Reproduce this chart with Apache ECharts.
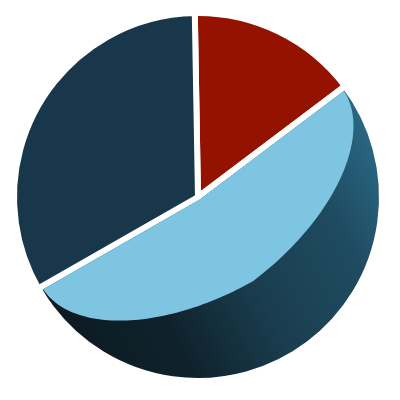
<!DOCTYPE html>
<html>
<head>
<meta charset="utf-8">
<script src="https://cdn.jsdelivr.net/npm/echarts@6/dist/echarts.min.js"></script>
<style>
html,body{margin:0;padding:0;background:#ffffff;}
#c{width:400px;height:400px;}
</style>
</head>
<body>
<div id="c"></div>
<script>
// ---- data ----
const categories = ['Segment A', 'Segment B', 'Segment C'];
const values = [15, 52, 33];

// ---- styling ----
const sliceColors = [
  '#931200',
  {
    type: 'linear', x: 0, y: 0.8, x2: 1, y2: 0.2,
    colorStops: [
      { offset: 0, color: '#0c1920' },
      { offset: 0.3, color: '#0f222c' },
      { offset: 0.55, color: '#1a3e50' },
      { offset: 0.8, color: '#1f4b60' },
      { offset: 1, color: '#2a6a88' }
    ]
  },
  '#19374b'
];
const highlightColor = '#7ec5e2';
const START_ANGLE = 91;
const CENTER = [198, 197];
const RADIUS = 184;
const BORDER = 6;

const chart = echarts.init(document.getElementById('c'), null, { renderer: 'canvas' });

const option = {
  animation: false,
  backgroundColor: '#ffffff',
  series: [{
    type: 'pie',
    center: CENTER,
    radius: RADIUS,
    startAngle: START_ANGLE,
    clockwise: true,
    label: { show: false },
    labelLine: { show: false },
    emphasis: { disabled: true },
    silent: true,
    itemStyle: { borderColor: '#ffffff', borderWidth: BORDER },
    data: categories.map((name, i) => ({
      name: name,
      value: values[i],
      itemStyle: { color: sliceColors[i] }
    }))
  }]
};
chart.setOption(option);

// ---- light highlight on the large slice, derived from the pie's own layout ----
let lay = null;
try {
  lay = chart.getModel().getSeriesByIndex(0).getData().getItemLayout(1);
} catch (err) { lay = null; }
if (!lay || lay.cx == null) {
  const sum = values.reduce((a, b) => a + b, 0);
  const s0 = -START_ANGLE * Math.PI / 180 + values[0] / sum * Math.PI * 2;
  lay = { cx: CENTER[0], cy: CENTER[1], r: RADIUS, startAngle: s0, endAngle: s0 + values[1] / sum * Math.PI * 2 };
}
const cx = lay.cx, cy = lay.cy;
const R = lay.r - BORDER / 2 - 0.5;
const s = lay.startAngle, e = lay.endAngle, m = (s + e) / 2;
const nm = [Math.cos(m), Math.sin(m)];
const Sd = [Math.cos(s), Math.sin(s)];
const Ed = [Math.cos(e), Math.sin(e)];
const g = BORDER / 2;
const bMinor = 0.54 * R;
const pts = [[cx + g * nm[0], cy + g * nm[1]]];
const N = 120;
for (let i = 0; i <= N; i++) {
  const t = Math.PI * i / N;
  const c = Math.cos(t);
  const base = c >= 0 ? [c * R * Sd[0], c * R * Sd[1]] : [-c * R * Ed[0], -c * R * Ed[1]];
  const off = g + bMinor * Math.sin(t);
  pts.push([cx + base[0] + off * nm[0], cy + base[1] + off * nm[1]]);
}
chart.setOption({
  graphic: {
    elements: [{
      type: 'polygon',
      z: 100,
      silent: true,
      shape: { points: pts },
      style: { fill: highlightColor }
    }]
  }
});
</script>
</body>
</html>
